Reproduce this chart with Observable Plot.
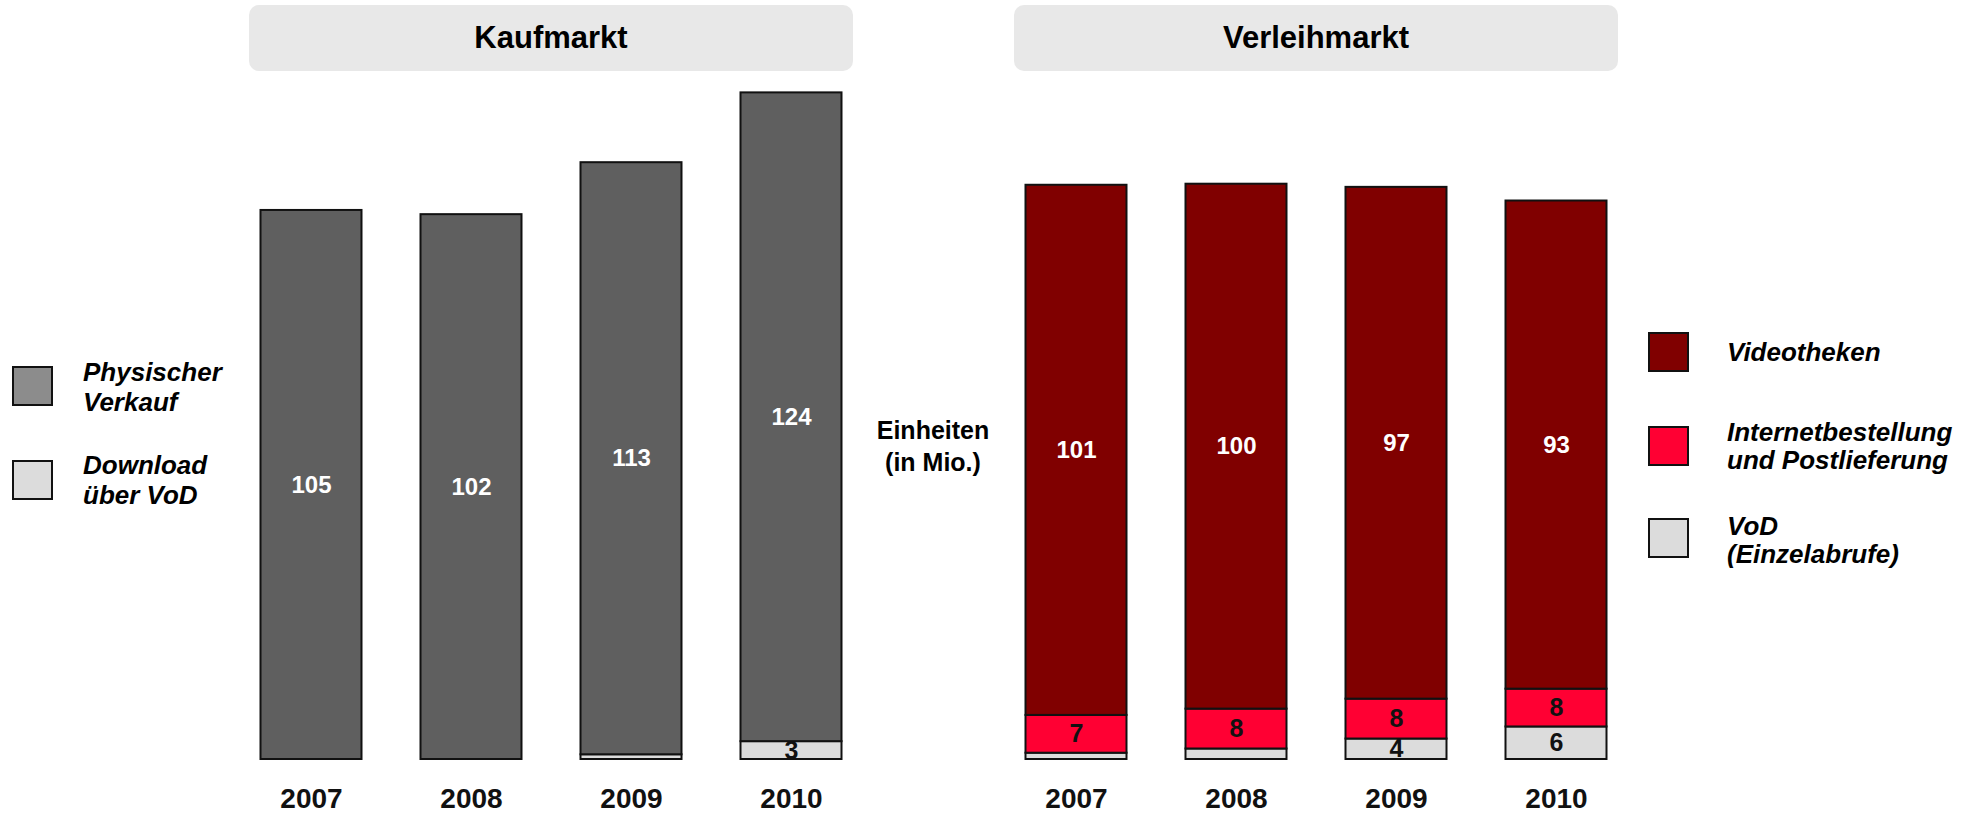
<!DOCTYPE html>
<html>
<head>
<meta charset="utf-8">
<script src="https://cdn.jsdelivr.net/npm/d3@7"></script>
<script src="https://cdn.jsdelivr.net/npm/@observablehq/plot@0.6"></script>
<style>
  body { margin: 0; background: #fff; font-family: "Liberation Sans", Arial, sans-serif; }
  #wrap { position: relative; width: 1972px; height: 814px; overflow: hidden; }
  #wrap svg { position: absolute; left: 0; top: 0; }
  .hdr { position: absolute; top: 5px; height: 66px; width: 604px; background: #e8e8e8; border-radius: 10px;
         font-weight: bold; font-size: 31px; display: flex; align-items: center; justify-content: center; color: #000; }
  .sw { position: absolute; width: 37px; height: 36px; border: 2px solid #111; }
  .lt { position: absolute; font-weight: bold; font-style: italic; font-size: 26px; line-height: 30px; color: #000; white-space: nowrap; }
  .unit { position: absolute; left: 833px; width: 200px; top: 414px; text-align: center; font-weight: bold; font-size: 25px; line-height: 32px; color: #000; }
</style>
</head>
<body>
<div id="wrap"></div>
<script>
// ---- data ----
const years = ["2007", "2008", "2009", "2010"];
const markets = ["Kaufmarkt", "Verleihmarkt"];

// Kaufmarkt (bottom to top)
const kaufDownload = [0, 0, 0.9, 3.4];
const kaufPhysisch = [104.6, 103.8, 112.8, 123.6];
const kaufDownloadLabels = [null, null, null, "3"];
const kaufPhysischLabels = ["105", "102", "113", "124"];

// Verleihmarkt (bottom to top)
const verleihVoD = [1.2, 2.0, 3.9, 6.2];
const verleihInternet = [7.2, 7.6, 7.6, 7.2];
const verleihVideotheken = [101, 100, 97.5, 93];
const verleihVoDLabels = [null, null, "4", "6"];
const verleihInternetLabels = ["7", "8", "8", "8"];
const verleihVideothekenLabels = ["101", "100", "97", "93"];

const seriesNames = ["Download über VoD", "Physischer Verkauf", "VoD (Einzelabrufe)", "Internetbestellung und Postlieferung", "Videotheken"];
const seriesColors = ["#dcdcdc", "#5f5f5f", "#dcdcdc", "#ff0033", "#800000"];
const legendColors = ["#dcdcdc", "#8c8c8c", "#dcdcdc", "#ff0033", "#800000"];

// ---- table ----
const rows = [];
function addSeries(market, series, values, labels, white) {
  years.forEach((y, i) => rows.push({market, year: y, series, value: values[i], label: labels[i], white}));
}
addSeries("Kaufmarkt", seriesNames[0], kaufDownload, kaufDownloadLabels, false);
addSeries("Kaufmarkt", seriesNames[1], kaufPhysisch, kaufPhysischLabels, true);
addSeries("Verleihmarkt", seriesNames[2], verleihVoD, verleihVoDLabels, false);
addSeries("Verleihmarkt", seriesNames[3], verleihInternet, verleihInternetLabels, false);
addSeries("Verleihmarkt", seriesNames[4], verleihVideotheken, verleihVideothekenLabels, true);

const common = {fx: "market", x: "year", y: "value", z: "series"};

const chart = Plot.plot({
  width: 1972,
  height: 814,
  marginTop: 0,
  marginBottom: 55,
  marginLeft: 230.5,
  marginRight: 336.3,
  style: {fontFamily: '"Liberation Sans", Arial, sans-serif', background: "transparent", color: "#000"},
  fx: {domain: markets, paddingInner: 0.1636, paddingOuter: 0, axis: null, label: null},
  x: {domain: years, paddingInner: 0.37, paddingOuter: 0.185, label: null},
  y: {domain: [0, 144.6], axis: null},
  color: {domain: seriesNames, range: seriesColors},
  marks: [
    Plot.barY(rows, Plot.stackY({...common, fill: "series", stroke: "#111", strokeWidth: 2, filter: d => d.value > 0})),
    Plot.text(rows, Plot.stackY({...common, text: d => d.white ? d.label : null, fill: "#fff", fontSize: 24, fontWeight: "bold"})),
    Plot.text(rows, Plot.stackY({...common, text: d => d.white ? null : d.label, fill: "#111", fontSize: 25, fontWeight: "bold"})),
    Plot.axisX({tickSize: 0, tickPadding: 29, fontSize: 28, fontWeight: "bold", fill: "#111", label: null})
  ]
});

const wrap = document.getElementById("wrap");
wrap.appendChild(chart);

// headers centred on facets
const fx = chart.scale("fx");
const bw = fx.bandwidth;
markets.forEach(m => {
  const d = document.createElement("div");
  d.className = "hdr";
  d.textContent = m;
  d.style.left = (fx.apply(m) + bw / 2 - 302) + "px";
  wrap.appendChild(d);
});

// legends
function legendItem(name, color, sx, sy, lines, tx, ty, lh) {
  const s = document.createElement("div");
  s.className = "sw";
  s.style.left = sx + "px"; s.style.top = sy + "px"; s.style.background = color;
  wrap.appendChild(s);
  const t = document.createElement("div");
  t.className = "lt";
  t.style.left = tx + "px"; t.style.top = ty + "px"; t.style.lineHeight = lh + "px";
  t.innerHTML = lines.join("<br>");
  wrap.appendChild(t);
}
legendItem(seriesNames[1], legendColors[1], 12, 366, ["Physischer", "Verkauf"], 83, 357, 30);
legendItem(seriesNames[0], legendColors[0], 12, 460, ["Download", "über VoD"], 83, 450, 30);
legendItem(seriesNames[4], legendColors[4], 1648, 332, ["Videotheken"], 1727, 338, 28);
legendItem(seriesNames[3], legendColors[3], 1648, 426, ["Internetbestellung", "und Postlieferung"], 1727, 418, 28);
legendItem(seriesNames[2], legendColors[2], 1648, 518, ["VoD", "(Einzelabrufe)"], 1727, 512, 28);

const u = document.createElement("div");
u.className = "unit";
u.innerHTML = "Einheiten<br>(in Mio.)";
wrap.appendChild(u);
</script>
</body>
</html>
